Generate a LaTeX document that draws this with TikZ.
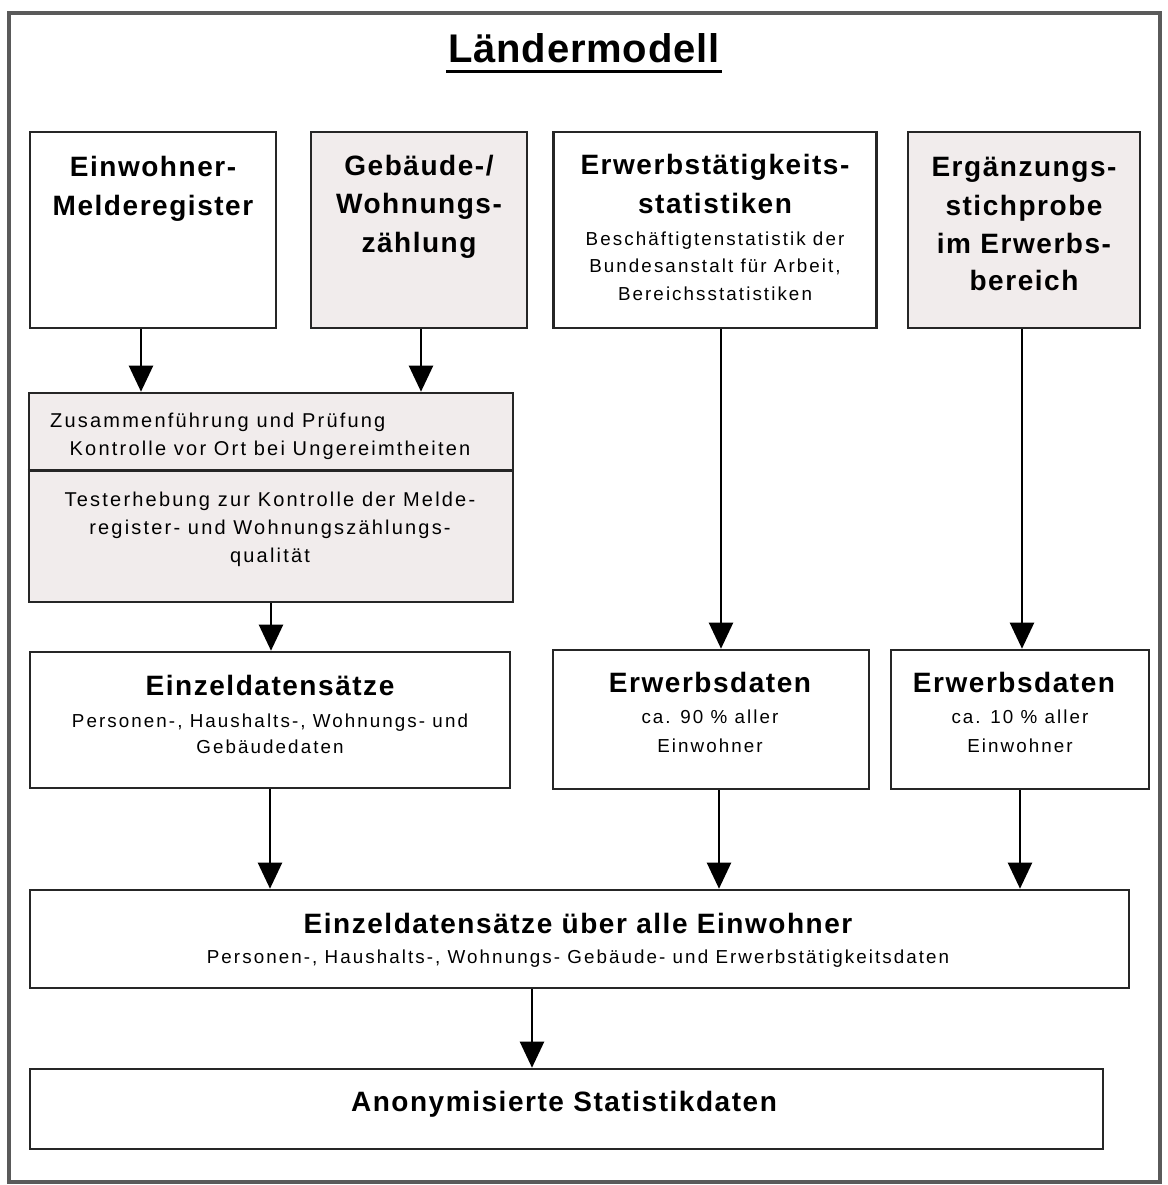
\documentclass[tikz,border=0pt]{standalone}
\usepackage{fontspec}
\setmainfont{Liberation Sans}
\newfontfamily\hdfont{Liberation Sans}[LetterSpace=5.5]
\newfontfamily\smfont{Liberation Sans}[LetterSpace=11]
\newfontfamily\ttlfont{Liberation Sans}[LetterSpace=2]
\usetikzlibrary{arrows.meta,calc}
\definecolor{boxgray}{RGB}{241,236,236}
\definecolor{framegray}{RGB}{90,90,90}
\tikzset{
  box/.style={draw=black!85, line width=2.6pt, fill=white, inner sep=0pt, rectangle},
  gbox/.style={box, fill=boxgray},
  hd/.style={anchor=base, inner sep=0pt, font=\hdfont\bfseries\fontsize{28}{28}\selectfont},
  sm/.style={anchor=base, inner sep=0pt, font=\smfont\fontsize{18.8}{18.8}\selectfont},
  smm/.style={anchor=base, inner sep=0pt, font=\smfont\fontsize{20}{20}\selectfont},
  arr/.style={line width=2.2pt, -{Triangle[width=24pt,length=26pt]}},
}
\begin{document}
\begin{tikzpicture}[x=1pt,y=-1pt]
\useasboundingbox (0,0) rectangle (1167,1185);
\draw[framegray, line width=3.5pt] (9,13) rectangle (1160,1182);

% title
\node[anchor=base, inner sep=0pt, font=\ttlfont\bfseries\fontsize{40}{40}\selectfont] (title) at (584,63) {Ländermodell};
\draw[line width=3pt] ($(title.base west)+(-2,9)$) -- ($(title.base east)+(2,9)$);

% row 1
\node[box, minimum width=246pt, minimum height=196pt] (a) at (153,230) {};
\node[hd] (a1) at (153,177) {Einwohner-};
\node[hd] (a2) at (153,215) {Melderegister};

\node[gbox, minimum width=216pt, minimum height=196pt] (b) at (419,230) {};
\node[hd] (b1) at (419,176) {Gebäude-/};
\node[hd] (b2) at (419,213) {Wohnungs-};
\node[hd] (b3) at (419,252) {zählung};

\node[box, minimum width=323pt, minimum height=196pt] (c) at (715,230) {};
\node[hd] (c1) at (715,175) {Erwerbstätigkeits-};
\node[hd] (c2) at (715,213) {statistiken};
\node[sm] (c3) at (715,245) {Beschäftigtenstatistik der};
\node[sm] (c4) at (715,272) {Bundesanstalt für Arbeit,};
\node[sm] (c5) at (715,300) {Bereichsstatistiken};

\node[gbox, minimum width=232pt, minimum height=196pt] (d) at (1024,230) {};
\node[hd] (d1) at (1024,177) {Ergänzungs-};
\node[hd] (d2) at (1024,215) {stichprobe};
\node[hd] (d3) at (1024,253) {im Erwerbs-};
\node[hd] (d4) at (1024,290) {bereich};

% middle box
\node[gbox, minimum width=484pt, minimum height=209pt] (m) at (271,497.5) {};
\draw[black!85, line width=2.6pt] ($(m.north west)+(0,79)$) -- ($(m.north east)+(0,79)$);
\node[smm, anchor=base west] (m1) at (50,427) {Zusammenführung und Prüfung};
\node[smm] (m2) at (270,455) {Kontrolle vor Ort bei Ungereimtheiten};
\node[smm] (m3) at (270,506) {Testerhebung zur Kontrolle der Melde-};
\node[smm] (m4) at (270,534) {register- und Wohnungszählungs-};
\node[smm] (m5) at (270,562) {qualität};

% row 3
\node[box, minimum width=480pt, minimum height=136pt] (e1) at (270,720) {};
\node[hd] (e1a) at (270,695) {Einzeldatensätze};
\node[sm] (e1b) at (270,727) {Personen-, Haushalts-, Wohnungs- und};
\node[sm] (e1c) at (270,753) {Gebäudedaten};

\node[box, minimum width=316pt, minimum height=139pt] (e2) at (711,719.5) {};
\node[hd] (e2a) at (710,692) {Erwerbsdaten};
\node[sm] (e2b) at (710,723) {ca. 90 \% aller};
\node[sm] (e2c) at (710,752) {Einwohner};

\node[box, minimum width=258pt, minimum height=139pt] (e3) at (1020,719.5) {};
\node[hd] (e3a) at (1014,692) {Erwerbsdaten};
\node[sm] (e3b) at (1020,723) {ca. 10 \% aller};
\node[sm] (e3c) at (1020,752) {Einwohner};

% row 4
\node[box, minimum width=1099pt, minimum height=98pt] (f) at (579.5,939) {};
\node[hd] (f1) at (578,933) {Einzeldatensätze über alle Einwohner};
\node[sm] (f2) at (578,963) {Personen-, Haushalts-, Wohnungs- Gebäude- und Erwerbstätigkeitsdaten};

\node[box, minimum width=1073pt, minimum height=80pt] (g) at (566.5,1109) {};
\node[hd] (g1) at (564,1111) {Anonymisierte Statistikdaten};

% arrows
\draw[arr] ([xshift=-12pt]a.south) -- ([xshift=-12pt]a.south |- m.north);
\draw[arr] ([xshift=2pt]b.south) -- ([xshift=2pt]b.south |- m.north);
\draw[arr] ([xshift=6pt]c.south) -- ([xshift=6pt]c.south |- e2.north);
\draw[arr] ([xshift=-2pt]d.south) -- ([xshift=-2pt]d.south |- e3.north);
\draw[arr] (m.south) -- (m.south |- e1.north);
\draw[arr] (e1.south) -- (e1.south |- f.north);
\draw[arr] ([xshift=8pt]e2.south) -- ([xshift=8pt]e2.south |- f.north);
\draw[arr] (e3.south) -- (e3.south |- f.north);
\draw[arr] ([xshift=-47.5pt]f.south) -- ([xshift=-47.5pt]f.south |- g.north);
\end{tikzpicture}
\end{document}
